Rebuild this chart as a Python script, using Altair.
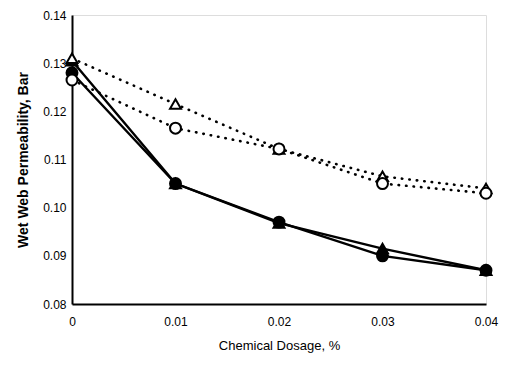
import altair as alt
import pandas as pd

dosage = [0, 0.01, 0.02, 0.03, 0.04]
solid_circle = [0.128, 0.105, 0.097, 0.090, 0.087]
solid_triangle = [0.1305, 0.105, 0.0968, 0.0915, 0.087]
open_triangle = [0.131, 0.1215, 0.1122, 0.1065, 0.104]
open_circle = [0.1265, 0.1165, 0.1122, 0.105, 0.103]

series = [
    ("solid_circle", solid_circle, "circle", True, False),
    ("solid_triangle", solid_triangle, "triangle-up", True, False),
    ("open_triangle", open_triangle, "triangle-up", False, True),
    ("open_circle", open_circle, "circle", False, True),
]

FONT = "Liberation Sans Narrow, Liberation Sans, Arial"

xscale = alt.Scale(domain=[0, 0.04], nice=False, zero=False)
yscale = alt.Scale(domain=[0.08, 0.14], nice=False, zero=False)

xaxis = alt.Axis(values=dosage, title="Chemical Dosage, %", grid=False, ticks=False,
                 labelExpr="datum.value == 0 ? '0' : format(datum.value, '.2f')",
                 labelFont=FONT, labelFontSize=12, labelColor="black", labelPadding=12,
                 titleFont=FONT, titleFontSize=13, titleFontWeight="normal", titleColor="black",
                 titlePadding=12, domainColor="black", domainWidth=2, labelFlush=False)
yaxis = alt.Axis(values=[0.08, 0.09, 0.10, 0.11, 0.12, 0.13, 0.14], format=".2f",
                 title="Wet Web Permeability, Bar", grid=False, ticks=False,
                 labelFont=FONT, labelFontSize=12, labelColor="black", labelPadding=6,
                 titleFont="Liberation Sans, Arial", titleFontSize=14, titleFontWeight="bold",
                 titleColor="black", titlePadding=12, domainColor="black", domainWidth=2)

layers = []
for name, vals, shape, filled, dotted in series:
    df = pd.DataFrame({"x": dosage, "y": vals, "s": name})
    base = alt.Chart(df)
    if dotted:
        line = base.mark_line(color="black", strokeWidth=2.6, strokeDash=[0.5, 7], strokeCap="round")
    else:
        line = base.mark_line(color="black", strokeWidth=2.4)
    line = line.encode(x=alt.X("x:Q", scale=xscale, axis=xaxis),
                       y=alt.Y("y:Q", scale=yscale, axis=yaxis))
    if filled:
        pts = base.mark_point(shape=shape, filled=True, fill="black", stroke="black",
                              size=120, opacity=1)
    else:
        pts = base.mark_point(shape=shape, filled=True, fill="white", stroke="black",
                              strokeWidth=2, size=120, opacity=1)
    pts = pts.encode(x=alt.X("x:Q", scale=xscale), y=alt.Y("y:Q", scale=yscale))
    layers += [line, pts]

chart = alt.layer(*layers).properties(
    width=414, height=289,
    autosize=alt.AutoSizeParams(type="none"),
    padding={"left": 64, "top": 7, "right": 14, "bottom": 62},
).configure_view(stroke="black", strokeWidth=2).configure(background="white")

chart.save("out.html", embed_options={"renderer": "svg", "actions": False})
